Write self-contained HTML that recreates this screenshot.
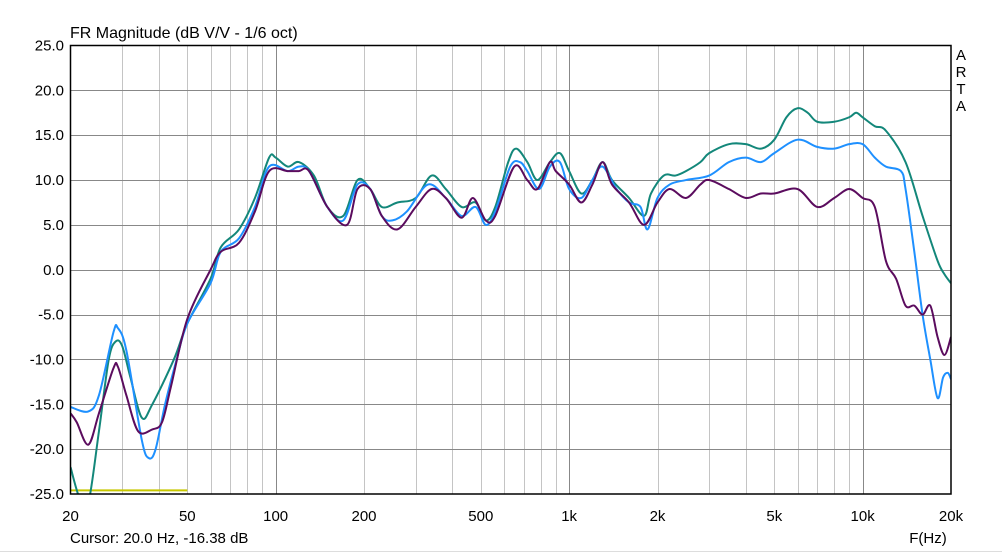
<!DOCTYPE html>
<html><head><style>
body{margin:0;background:#fff;width:1002px;height:553px;overflow:hidden;font-family:"Liberation Sans",Arial,sans-serif}
</style></head><body>
<svg id="s" width="1002" height="553" xmlns="http://www.w3.org/2000/svg" font-family="Liberation Sans, Arial, sans-serif">
<rect width="1002" height="553" fill="#fff"/>
<defs><clipPath id="c"><rect x="70.5" y="45.5" width="880.5" height="448.5"/></clipPath></defs>
<g id="grid"></g>
<text x="70" y="38" font-size="16" fill="#000">FR Magnitude (dB V/V - 1/6 oct)</text>
<g id="yl" font-size="15" text-anchor="end" fill="#000"></g>
<g id="xl" font-size="15" text-anchor="middle" fill="#000"></g>
<g font-size="15" fill="#000" text-anchor="middle"><text x="961" y="60">A</text><text x="961" y="77">R</text><text x="961" y="94">T</text><text x="961" y="111">A</text></g>
<text x="928" y="543" font-size="15" text-anchor="middle">F(Hz)</text>
<text x="70" y="543" font-size="15">Cursor: 20.0 Hz, -16.38 dB</text>
<line x1="0" y1="551.5" x2="1002" y2="551.5" stroke="#ddd"/>
<g id="curves" clip-path="url(#c)" fill="none" stroke-width="2" stroke-linejoin="round"></g>
<rect x="70.5" y="45.5" width="880.5" height="448.5" fill="none" stroke="#000" stroke-width="1.5"/>
</svg>
<script>
const L=70.5,R=951,T=45.5,B=494;
const X=f=>L+(Math.log10(f)-Math.log10(20))/3*(R-L);
const Y=d=>T+(25-d)/50*(B-T);
const ns="http://www.w3.org/2000/svg";
function el(p,t,a,txt){const e=document.createElementNS(ns,t);for(const k in a)e.setAttribute(k,a[k]);if(txt!=null)e.textContent=txt;document.getElementById(p).appendChild(e);return e;}
for(let dec of [10,100,1000,10000])for(let m=1;m<10;m++){const f=dec*m;if(f<=20||f>=20000)continue;const x=Math.round(X(f))+0.5;el('grid','line',{x1:x,x2:x,y1:T,y2:B,stroke:m==1?'#888':'#c4c4c4','stroke-width':1});}
for(let d=-20;d<=20;d+=5){const y=Math.round(Y(d))+0.5;el('grid','line',{x1:L,x2:R,y1:y,y2:y,stroke:'#888','stroke-width':1});}
for(let d=-25;d<=25;d+=5)el('yl','text',{x:64,y:Y(d)+5},d.toFixed(1));
[[20,'20'],[50,'50'],[100,'100'],[200,'200'],[500,'500'],[1000,'1k'],[2000,'2k'],[5000,'5k'],[10000,'10k'],[20000,'20k']].forEach(([f,t])=>el('xl','text',{x:X(f),y:521},t));
function path(pts,col){let p=pts.map(([f,d])=>[X(f),Y(d)]);let s='M'+p[0][0]+','+p[0][1];for(let i=0;i<p.length-1;i++){const p0=p[i-1]||p[i],p1=p[i],p2=p[i+1],p3=p[i+2]||p2;const c1=[p1[0]+(p2[0]-p0[0])/6,p1[1]+(p2[1]-p0[1])/6],c2=[p2[0]-(p3[0]-p1[0])/6,p2[1]-(p3[1]-p1[1])/6];s+=`C${c1},${c2},${p2}`;}el('curves','path',{d:s,stroke:col});}
el('curves','line',{x1:X(20),x2:X(50),y1:Y(-24.6),y2:Y(-24.6),stroke:'#c8c800','stroke-width':2});
path([[20,-22],[21.5,-25.5],[23,-26],[25,-18],[27,-10],[28.5,-8],[30,-8.5],[32,-12],[35,-16.5],[38,-15],[45,-10],[50,-6],[60,-1],[65,2.5],[75,4.5],[85,8],[95,12.5],[100,12.5],[110,11.5],[120,12],[135,10.5],[150,7],[170,6],[190,10],[210,9],[230,7],[260,7.5],[300,8],[340,10.5],[380,9],[430,7],[480,7.5],[520,5.5],[560,7],[620,12],[660,13.5],[720,12],[780,10],[860,12],[930,13],[1000,11],[1100,8.5],[1200,10],[1300,12],[1400,10],[1600,8],[1800,6],[1900,8.5],[2100,10.5],[2300,10.5],[2500,11],[2800,12],[3000,13],[3500,14],[4000,14],[4500,13.5],[5000,14.5],[5500,17],[6000,18],[6500,17.5],[7000,16.5],[8000,16.5],[9000,17],[9500,17.5],[10000,17],[11000,16],[12000,15.5],[14000,12],[16000,6],[18000,1],[19000,-0.5],[20000,-1.5]],'#13877a');
path([[20,-15.3],[23,-15.8],[25,-14],[28,-7],[29,-6.5],[31,-9],[35,-19],[37,-21],[39,-20],[42,-15],[46,-10],[50,-6],[60,-1.5],[65,2],[75,3.5],[85,7],[95,11.5],[110,11],[120,11.5],[130,11],[150,7],[170,5.5],[190,9.5],[210,9],[230,6],[250,5.5],[280,6.5],[330,9.5],[380,8],[430,6],[480,7],[520,5],[560,6.5],[630,11.5],[680,12],[720,11],[790,9],[860,11.5],[930,12],[1000,9],[1100,8],[1200,10],[1300,11.5],[1450,9],[1600,7.5],[1750,7],[1850,4.5],[2000,8],[2200,9.5],[2500,10],[3000,10.5],[3500,12],[4000,12.5],[4500,12],[5000,13],[6000,14.5],[7000,13.7],[8000,13.5],[9000,14],[10000,14],[11000,12.5],[12000,11.5],[13500,11],[14000,9],[15000,2],[16000,-5],[17000,-10],[18000,-14.3],[18800,-12],[19500,-11.5],[20000,-12.2]],'#1e90ff');
path([[20,-16],[21,-17],[23,-19.5],[25,-16],[28,-11],[29,-10.8],[31,-14],[34,-18],[38,-17.8],[41,-17],[44,-13],[50,-5.5],[60,0],[65,2],[75,3],[85,6.5],[95,11],[110,11],[120,11],[130,11],[150,7],[175,5],[190,9],[210,9],[230,6],[260,4.5],[300,7],[340,9],[380,8],[430,5.8],[470,8],[520,5.5],[560,6],[650,11.5],[720,10],[780,9],[860,12],[900,11],[1000,9.5],[1100,7.5],[1200,9.5],[1300,12],[1400,9.5],[1600,7.5],[1800,5],[2000,7.5],[2200,9],[2500,8],[2800,9.5],[3000,10],[3500,9],[4000,8],[4500,8.5],[5000,8.5],[6000,9],[7000,7],[8000,8],[9000,9],[10000,8],[11000,7],[12000,1],[13000,-1],[14000,-4],[15000,-4],[16000,-5],[17000,-4],[18000,-7.5],[19000,-9.5],[20000,-7.5]],'#5b0c5e');
</script>
</body></html>
